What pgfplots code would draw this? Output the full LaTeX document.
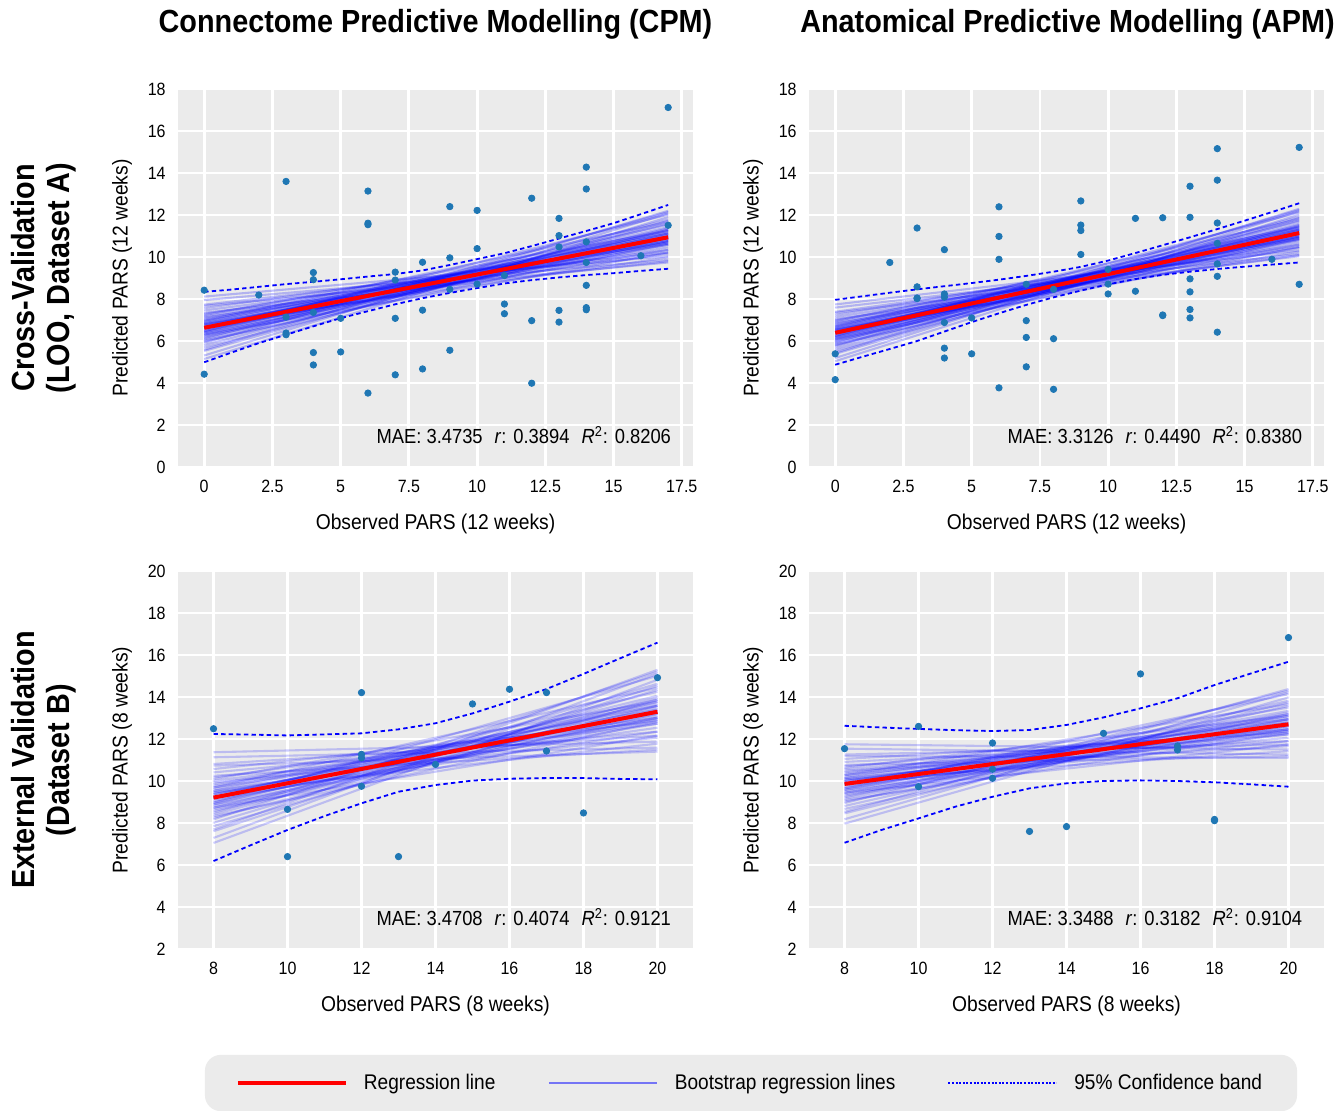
\documentclass[border=0pt]{standalone}
\usepackage{fontspec}
\setmainfont{Liberation Sans}[FakeStretch=0.9]
\usepackage{pgfplots}
\pgfplotsset{compat=1.18}
\definecolor{bggray}{HTML}{EBEBEB}
\definecolor{tabblue}{HTML}{1F77B4}
\definecolor{bootleg}{RGB}{117,117,245}
\newcommand{\ticksize}{\fontsize{8.9}{10}\selectfont}
\newcommand{\labsize}{\fontsize{10.7}{12}\selectfont}
\pgfplotsset{
  panel/.style={
    scale only axis, width=257.5pt, height=189pt,
    axis background/.style={fill=bggray},
    axis line style={draw=none},
    tick style={draw=none},
    major tick length=0pt,
    grid=major,
    major grid style={white, line width=1.4pt},
    /pgf/number format/assume math mode=true,
    tick label style={font=\ticksize, inner sep=0pt},
    yticklabel style={anchor=east, xshift=-6pt},
    xticklabel style={anchor=north, yshift=-6.5pt},
    label style={font=\labsize},
    xlabel style={at={(axis description cs:0.5,-0.151)}, anchor=center},
    ylabel style={at={(axis description cs:-0.1087,0.5)}, anchor=center},
  },
  toprow/.style={panel, xmin=-0.96, xmax=17.91, ymin=0, ymax=18,
    xtick={0,2.5,5,7.5,10,12.5,15,17.5}, ytick={0,2,...,18},
    xlabel={Observed PARS (12 weeks)}, ylabel={Predicted PARS (12 weeks)}},
  botrow/.style={panel, xmin=7.04, xmax=20.96, ymin=2, ymax=20,
    xtick={8,10,...,20}, ytick={2,4,...,20},
    xlabel={Observed PARS (8 weeks)}, ylabel={Predicted PARS (8 weeks)}},
  pts/.style={only marks, mark=*, mark size=1.6pt, mark options={draw=tabblue, fill=tabblue}, forget plot},
  boot/.style={draw=blue, line width=1.05pt, draw opacity=0.24, forget plot},
  bootb/.style={draw=blue, line width=1.05pt, draw opacity=0.2, forget plot},
  ci/.style={blue, line width=0.9pt, dash pattern=on 2.2pt off 1.6pt, forget plot},
  reg/.style={red, line width=2pt, forget plot},
}
\newcommand{\statnode}[3]{\node[anchor=east, font=\fontsize{10.2}{12}\selectfont, inner sep=0pt] at (axis description cs:0.958,0.085) {MAE: #1\hspace{6pt}\textit{r}: #2\hspace{6pt}\textit{R}\textsuperscript{2}: #3};}
\begin{document}
\begin{tikzpicture}
\useasboundingbox (0,0) rectangle (671.5pt,-555pt);
\node[font=\fontsize{16}{19}\selectfont\bfseries] at (217.75pt,-12pt) {Connectome Predictive Modelling (CPM)};
\node[font=\fontsize{16}{19}\selectfont\bfseries] at (533.75pt,-12pt) {Anatomical Predictive Modelling (APM)};
\node[font=\fontsize{16}{17.5}\selectfont\bfseries, rotate=90, align=center] at (22pt,-139pt) {Cross-Validation\\(LOO, Dataset A)};
\node[font=\fontsize{16}{17.5}\selectfont\bfseries, rotate=90, align=center] at (22pt,-380pt) {External Validation\\(Dataset B)};

% ---------------- Top left: CPM cross-validation
\begin{axis}[toprow, at={(89pt,-44.5pt)}, anchor=north west]
\addplot[pts] coordinates {
(0,8.42)(0,4.42)(2,8.19)(3,13.6)(3,7.14)(3,6.38)(3,6.30)(4,9.26)(4,8.92)(4,7.36)(4,5.45)(4,4.86)
(5,7.08)(5,5.48)(6,13.14)(6,11.61)(6,11.54)(6,3.52)(7,9.28)(7,8.90)(7,7.08)(7,4.39)(8,9.75)(8,7.47)(8,4.67)
(9,12.40)(9,9.96)(9,8.46)(9,5.56)(10,12.22)(10,10.40)(10,8.71)(11,9.12)(11,7.76)(11,7.30)
(12,12.80)(12,6.97)(12,3.99)(13,11.84)(13,11.02)(13,10.48)(13,7.46)(13,6.90)
(14,14.28)(14,13.24)(14,10.72)(14,9.74)(14,8.65)(14,7.59)(14,7.49)(16,10.06)(17,17.12)(17,11.51)};
\foreach \a/\b in {6.63/10.94,6.80/10.82,6.47/11.06,6.96/10.70,6.30/11.24,7.18/10.58,6.08/11.36,6.74/11.12,6.52/10.76,
7.455/10.34,5.805/11.60,7.07/11.00,6.19/10.88,6.85/10.46,6.41/11.42,7.73/10.22,5.53/11.72,6.685/11.30,6.575/10.58,
7.29/10.76,5.97/11.12,6.905/11.18,6.355/10.70,7.125/10.16,6.135/11.78,6.63/11.54,6.63/10.34,7.565/10.64,5.695/11.30,
6.795/9.98,6.465/12.02,7.015/10.88,6.245/11.00,7.95/9.86,5.31/12.08,6.74/10.94,
7.235/11.24,6.025/10.64,7.675/9.74,5.585/12.20,6.96/11.66,6.30/10.22,8.115/10.04,5.145/11.90,7.345/9.80,5.915/12.14,6.85/11.12,6.41/10.76}{
\edef\temp{\noexpand\addplot[boot] coordinates {(0,\a) (17,\b)};}\temp}
\addplot[ci] coordinates {(0,8.34)(1,8.45)(2,8.58)(3,8.71)(4,8.82)(5,8.94)(6,9.07)(7,9.19)(8,9.36)(9,9.62)(10,9.90)(11,10.18)(12,10.52)(13,10.88)(14,11.24)(15,11.61)(16,12.04)(17,12.48)};
\addplot[ci] coordinates {(0,4.99)(1,5.45)(2,5.90)(3,6.30)(4,6.70)(5,7.09)(6,7.42)(7,7.75)(8,8.04)(9,8.29)(10,8.52)(11,8.74)(12,8.90)(13,9.03)(14,9.14)(15,9.23)(16,9.34)(17,9.44)};
\addplot[reg] coordinates {(0,6.63)(17,10.94)};
\statnode{3.4735}{0.3894}{0.8206}
\end{axis}

% ---------------- Top right: APM cross-validation
\begin{axis}[toprow, at={(404.5pt,-44.5pt)}, anchor=north west]
\addplot[pts] coordinates {
(0,5.39)(0,4.16)(2,9.74)(3,11.38)(3,8.58)(3,8.05)(3,8.02)(4,10.35)(4,8.24)(4,8.09)(4,6.88)(4,5.66)(4,5.19)
(5,7.10)(5,5.39)(6,12.39)(6,10.98)(6,9.89)(6,3.77)(7,8.70)(7,6.97)(7,6.17)(7,4.77)(8,8.46)(8,6.11)(8,3.70)
(9,12.67)(9,11.52)(9,11.26)(9,10.12)(10,9.41)(10,8.71)(10,8.24)(11,11.84)(11,8.37)(12,11.87)(12,7.24)(12,7.21)
(13,13.37)(13,11.89)(13,8.96)(13,8.34)(13,7.50)(13,7.10)(14,15.16)(14,13.66)(14,11.62)(14,10.65)(14,9.67)(14,9.08)(14,6.42)
(16,9.89)(17,15.22)(17,8.70)};
\foreach \a/\b in {6.39/11.14,6.54/11.03,6.24/11.25,6.69/10.92,6.09/11.415,6.89/10.81,5.89/11.525,6.49/11.305,6.29/10.975,
7.14/10.59,5.64/11.745,6.79/11.195,5.99/11.085,6.59/10.70,6.19/11.58,7.39/10.48,5.39/11.855,6.44/11.47,6.34/10.81,
6.99/10.975,5.79/11.305,6.64/11.36,6.14/10.92,6.84/10.425,5.94/11.91,6.39/11.69,6.39/10.59,7.24/10.865,5.54/11.47,
6.54/10.26,6.24/12.13,6.74/11.085,6.04/11.195,7.59/10.15,5.19/12.185,6.49/11.14,
6.94/11.415,5.84/10.865,7.34/10.04,5.44/12.295,6.69/11.80,6.09/10.48,7.74/10.315,5.04/12.02,7.04/10.095,5.74/12.24,6.59/11.305,6.19/10.975}{
\edef\temp{\noexpand\addplot[boot] coordinates {(0,\a) (17,\b)};}\temp}
\addplot[ci] coordinates {(0,7.96)(1,8.13)(2,8.30)(3,8.46)(4,8.61)(5,8.76)(6,8.92)(7,9.10)(8,9.30)(9,9.53)(10,9.83)(11,10.19)(12,10.56)(13,10.94)(14,11.33)(15,11.73)(16,12.14)(17,12.56)};
\addplot[ci] coordinates {(0,4.87)(1,5.25)(2,5.62)(3,6.00)(4,6.45)(5,6.90)(6,7.32)(7,7.72)(8,8.08)(9,8.40)(10,8.70)(11,8.95)(12,9.15)(13,9.30)(14,9.43)(15,9.54)(16,9.64)(17,9.74)};
\addplot[reg] coordinates {(0,6.39)(17,11.14)};
\statnode{3.3126}{0.4490}{0.8380}
\end{axis}

% ---------------- Bottom left: CPM external
\begin{axis}[botrow, at={(89pt,-285.5pt)}, anchor=north west,
  legend style={at={(axis description cs:1.1126,-0.3545)}, anchor=center, fill=bggray, draw=none,
    rounded corners=8pt, font=\fontsize{10.6}{12}\selectfont, inner xsep=15.5pt, inner ysep=7.5pt,
    /tikz/every even column/.append style={column sep=24pt}},
  legend columns=3, legend cell align=left,
  legend image code/.code={\draw[#1] (0pt,0pt) -- (54pt,0pt); \path[draw=none] (0pt,0pt) -- (61pt,0pt);}]
\addplot[pts] coordinates {(8,12.49)(10,8.65)(10,6.40)(12,14.21)(12,11.27)(12,11.10)(12,9.75)(13,6.40)(14,10.79)(15,13.67)(16,14.37)(17,14.21)(17,11.43)(18,8.48)(20,14.92)};
\foreach \a/\b in {9.21/13.30,9.45/13.11,8.97/13.49,9.69/12.92,8.73/13.775,10.01/12.73,8.41/13.965,9.37/13.585,9.05/13.015,
10.41/12.35,8.01/14.345,9.85/13.395,8.57/13.205,9.53/12.54,8.89/14.06,10.81/12.16,7.61/14.535,9.29/13.87,9.13/12.73,
10.17/13.015,8.25/13.585,9.61/13.68,8.81/12.92,9.93/12.065,8.49/14.63,9.21/14.25,9.21/12.35,10.57/12.825,7.85/13.87,
9.45/11.78,8.97/15.01,9.77/13.205,8.65/13.395,11.13/11.59,7.29/15.105,9.37/13.30,
10.09/13.775,8.33/12.825,10.73/11.40,7.69/15.295,9.69/14.44,8.73/12.16,11.37/11.875,7.05/14.82,10.25/11.495,8.17/15.20,9.53/13.585,8.89/13.015}{
\edef\temp{\noexpand\addplot[bootb] coordinates {(8,\a) (20,\b)};}\temp}
\addplot[ci] coordinates {(8,12.24)(9,12.21)(10,12.17)(11,12.22)(12,12.27)(13,12.46)(14,12.75)(15,13.22)(16,13.78)(17,14.38)(18,15.10)(19,15.85)(20,16.59)};
\addplot[ci] coordinates {(8,6.19)(9,6.94)(10,7.67)(11,8.33)(12,8.94)(13,9.49)(14,9.81)(15,10.02)(16,10.11)(17,10.14)(18,10.14)(19,10.10)(20,10.08)};
\addplot[reg] coordinates {(8,9.21)(20,13.30)};
\statnode{3.4708}{0.4074}{0.9121}
\addlegendimage{red, line width=2pt}
\addlegendentry{Regression line}
\addlegendimage{bootleg, line width=1.4pt}
\addlegendentry{Bootstrap regression lines}
\addlegendimage{blue, line width=0.9pt, dash pattern=on 1pt off 0.8pt}
\addlegendentry{95\% Confidence band}
\end{axis}

% ---------------- Bottom right: APM external
\begin{axis}[botrow, at={(404.5pt,-285.5pt)}, anchor=north west]
\addplot[pts] coordinates {(8,11.54)(10,12.60)(10,9.73)(12,11.81)(12,10.56)(12,10.13)(13,7.60)(14,7.83)(15,12.27)(16,15.10)(17,11.67)(17,11.48)(18,8.17)(18,8.11)(20,16.83)};
\foreach \a/\b in {9.86/12.70,10.07/12.54,9.65/12.86,10.28/12.38,9.44/13.10,10.56/12.22,9.16/13.26,10.00/12.94,9.72/12.46,
10.91/11.90,8.81/13.58,10.42/12.78,9.30/12.62,10.14/12.06,9.58/13.34,11.26/11.74,8.46/13.74,9.93/13.18,9.79/12.22,
10.70/12.46,9.02/12.94,10.21/13.02,9.51/12.38,10.49/11.66,9.23/13.82,9.86/13.50,9.86/11.90,11.05/12.30,8.67/13.18,
10.07/11.42,9.65/14.14,10.35/12.62,9.37/12.78,11.54/11.26,8.18/14.22,10.00/12.70,
10.63/13.10,9.09/12.30,11.19/11.10,8.53/14.38,10.28/13.66,9.44/11.74,11.75/11.50,7.97/13.98,10.77/11.18,8.95/14.30,10.14/12.94,9.58/12.46}{
\edef\temp{\noexpand\addplot[bootb] coordinates {(8,\a) (20,\b)};}\temp}
\addplot[ci] coordinates {(8,12.63)(9,12.55)(10,12.48)(11,12.42)(12,12.38)(13,12.43)(14,12.67)(15,13.03)(16,13.46)(17,13.94)(18,14.57)(19,15.13)(20,15.68)};
\addplot[ci] coordinates {(8,7.06)(9,7.67)(10,8.22)(11,8.78)(12,9.25)(13,9.65)(14,9.89)(15,10.00)(16,10.03)(17,10.00)(18,9.94)(19,9.84)(20,9.73)};
\addplot[reg] coordinates {(8,9.86)(20,12.70)};
\statnode{3.3488}{0.3182}{0.9104}
\end{axis}
\end{tikzpicture}
\end{document}
